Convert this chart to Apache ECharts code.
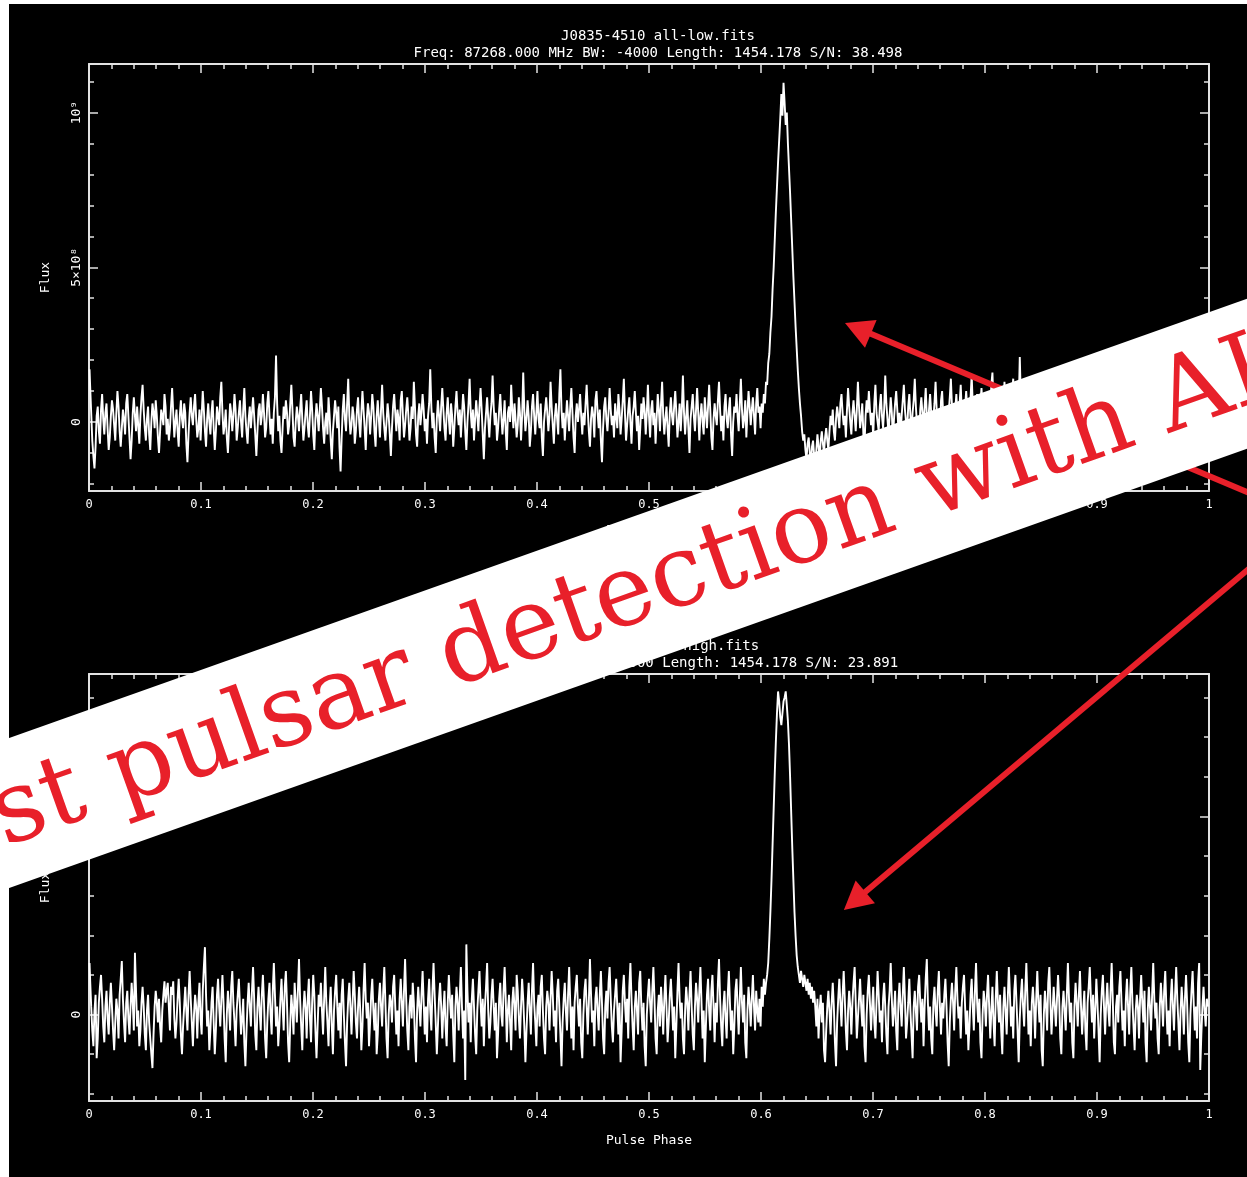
<!DOCTYPE html>
<html>
<head>
<meta charset="utf-8">
<script src="https://cdn.jsdelivr.net/npm/echarts@6/dist/echarts.min.js"></script>
<style>
  html, body { margin: 0; padding: 0; background: #ffffff; }
  #chart { width: 1247px; height: 1177px; }
</style>
</head>
<body>
<div id="chart"></div>
<script>
// Folded pulse profiles of J0835-4510, 1024 phase bins, flux in units of 1e8.
const FLUX_UNIT = 1e8;

const lowFlux = [
  1.7, 1.2, 0.3, -0.6, -1.1, -1.5, -0.8, 0.2, 0.5, -0.3, -0.7, 0.4, 0.9, 0.1, -0.4, 0.3,
  0.6, -0.2, -0.9, -0.5, 0.2, 0.7, 0.4, -0.1, -0.6, 0.3, 1.0, 0.5, -0.3, -0.8, -0.2, 0.4,
  0.1, -0.4, 0.6, 0.9, 0.2, -0.5, -1.2, -0.6, 0.3, 0.8, 0.2, -0.3, 0.5, -0.1, -0.7, 0.2,
  0.8, 1.2, 0.4, -0.2, -0.6, 0.1, 0.5, -0.4, -0.9, 0.0, 0.6, 0.3, -0.2, 0.7, 0.2, -0.5,
  -1.0, -0.3, 0.4, 0.2, -0.1, 0.9, 0.5, -0.4, 0.1, -0.6, -0.2, 0.5, 1.1, 0.3, -0.5, 0.0,
  0.4, -0.3, -0.8, 0.2, 0.7, 0.1, -0.2, 0.6, 0.3, -0.7, -1.3, -0.4, 0.3, 0.8, 0.2, -0.1,
  0.5, 0.9, 0.1, -0.5, -0.2, 0.4, -0.6, 0.2, 1.0, 0.4, -0.3, -0.8, 0.1, 0.6, 0.0, -0.4,
  0.3, 0.7, -0.2, -0.9, -0.3, 0.5, 0.2, -0.1, 0.8, 1.3, 0.3, -0.4, -0.1, 0.4, -0.5, -1.0,
  -0.2, 0.6, 0.3, -0.3, 0.2, 0.9, 0.4, -0.6, -0.2, 0.3, 0.7, 0.0, -0.5, 0.4, 1.1, 0.2,
  -0.3, -0.7, 0.1, 0.5, -0.2, 0.3, 0.8, 0.2, -0.4, -1.1, -0.3, 0.4, 0.6, -0.1, 0.2, 0.9,
  0.3, -0.5, -0.2, 0.6, 1.0, 0.2, -0.4, 0.1, -0.7, 0.3, 0.8, 2.15, 0.6, -0.3, 0.2, -0.6,
  -1.0, -0.2, 0.5, 0.1, 0.7, 0.3, -0.4, -0.1, 0.6, 1.2, 0.4, -0.5, -0.8, 0.0, 0.5, 0.2,
  -0.3, 0.4, 0.9, 0.1, -0.6, -0.2, 0.3, 0.7, -0.1, -0.5, 0.2, 1.0, 0.4, -0.4, -0.9, 0.1,
  0.6, 0.2, -0.3, 0.4, 1.1, 0.5, -0.2, -0.7, 0.0, 0.3, -0.4, 0.8, 0.2, -0.6, -1.2, -0.3,
  0.2, 0.7, 0.3, -0.2, 0.5, -0.8, -1.6, -0.5, 0.4, 0.9, 0.1, -0.3, 0.6, 1.4, 0.2, -0.4,
  -0.1, 0.5, 0.2, -0.7, -0.3, 0.4, 0.8, 0.0, -0.5, 0.3, 1.0, 0.4, -0.2, -0.9, 0.1, 0.6,
  0.3, -0.4, 0.2, 0.9, 0.5, -0.3, -0.8, 0.2, 0.7, 0.1, -0.5, 0.4, 1.2, 0.3, -0.2, -0.6,
  0.0, 0.6, 0.2, -0.4, -1.1, -0.2, 0.5, 0.9, 0.3, -0.3, 0.4, 0.1, -0.6, 0.7, 1.0, 0.2,
  -0.5, -0.1, 0.4, 0.8, 0.2, -0.6, -0.2, 0.5, 0.1, 1.3, 0.5, -0.4, -0.8, 0.2, 0.6, -0.1,
  0.3, 0.9, 0.4, -0.3, 0.1, -0.7, 0.2, 0.6, 1.7, 0.5, -0.2, 0.3, -0.5, -1.0, 0.1, 0.7,
  0.2, -0.3, 0.5, 1.1, 0.4, -0.2, -0.6, 0.3, 0.8, 0.1, -0.4, 0.6, 0.2, -0.8, -0.2, 0.5,
  1.0, 0.3, -0.1, 0.4, -0.5, 0.2, 0.9, 0.5, -0.3, -0.9, 0.0, 0.6, 1.4, 0.3, -0.2, 0.4,
  -0.6, 0.1, 0.7, 0.2, -0.3, 0.5, 1.1, 0.4, -0.4, -1.2, -0.2, 0.3, 0.8, 0.1, -0.5, 0.2,
  0.6, 1.5, 0.5, -0.1, 0.3, -0.6, -0.2, 0.4, 0.9, 0.2, -0.4, 0.1, 0.7, -0.3, -0.9, 0.3,
  0.5, 0.0, 1.2, 0.4, -0.2, 0.6, 0.1, -0.5, -0.1, 0.8, 0.3, -0.6, 0.2, 1.6, 0.4, -0.3,
  0.1, 0.7, 0.2, -0.8, -0.3, 0.5, 0.9, 0.2, -0.4, 0.3, 1.0, 0.1, -0.2, 0.6, -0.5, -1.1,
  0.0, 0.4, 0.8, 0.3, -0.3, 0.2, 1.3, 0.5, -0.1, -0.7, 0.2, 0.6, 0.1, -0.4, 0.9, 1.7,
  0.4, -0.2, 0.3, -0.6, 0.1, 0.7, 0.2, -0.3, 0.5, 1.1, 0.3, -0.5, -1.0, 0.2, 0.6, 0.0,
  0.4, 0.9, 0.2, -0.4, 0.3, -0.1, 0.6, 1.2, 0.4, -0.3, -0.8, 0.1, 0.5, 0.2, -0.5, 0.7,
  1.0, 0.3, -0.2, 0.4, -0.6, -1.3, -0.2, 0.5, 0.8, 0.1, -0.3, 0.3, 1.1, 0.4, -0.1, 0.2,
  -0.5, 0.6, 0.2, -0.2, 0.9, 0.4, -0.4, 0.1, 0.7, 1.4, 0.3, -0.6, -0.1, 0.4, 0.8, 0.0,
  -0.7, 0.2, 0.5, 1.0, 0.3, -0.3, 0.2, -0.9, -0.2, 0.6, 0.1, 0.8, 0.4, -0.4, 0.3, 1.2,
  0.2, -0.5, 0.4, 0.7, -0.1, 0.3, -0.7, 0.1, 0.9, 0.4, -0.3, 0.6, 1.3, 0.2, -0.4, 0.1,
  0.5, -0.2, -0.8, 0.3, 0.8, 0.2, -0.1, 0.5, 1.0, 0.3, -0.5, 0.0, 0.6, -0.3, 0.4, 1.5,
  0.3, -0.4, 0.2, 0.7, -0.2, -1.0, 0.1, 0.5, 0.9, 0.2, -0.3, 0.4, 1.1, 0.3, -0.6, 0.2,
  0.6, 0.0, -0.4, 0.8, 0.3, -0.2, 0.5, 1.2, 0.4, -0.5, -0.9, 0.1, 0.6, 0.2, -0.1, 0.7,
  1.3, 0.4, -0.3, 0.2, -0.6, 0.5, 0.9, 0.1, -0.2, 0.4, 0.8, -0.4, -1.1, 0.0, 0.5, 0.3,
  0.9, 0.2, -0.3, 0.6, 1.4, 0.4, -0.2, 0.1, 0.7, -0.5, 0.3, 1.0, 0.5, -0.1, 0.4, 0.8,
  0.2, -0.4, 0.6, 1.1, 0.3, 0.5, -0.2, 0.6, 0.3, 0.9, 0.6, 1.3, 1.2, 1.9, 2.2, 2.9,
  3.4, 4.3, 5.0, 5.9, 6.8, 7.6, 8.4, 9.1, 9.8, 10.6, 9.9, 10.96, 10.3, 9.6, 10.0, 9.0,
  8.2, 7.4, 6.5, 5.6, 4.7, 3.9, 3.1, 2.4, 1.7, 1.1, 0.6, 0.2, -0.3, -0.6, -0.4, -0.9,
  -1.2, -0.7, -0.5, -1.0, -1.4, -0.8, -0.6, -1.1, -1.5, -0.9, -0.4, -0.8, -1.2, -0.6, -0.3, -0.7,
  -1.0, -0.5, -0.2, -0.6, -0.9, -0.3, 0.2, -0.1, 0.4, -0.3, -0.6, 0.1, 0.5, 0.2, -0.2, 0.6,
  0.9, 0.3, -0.1, 0.2, -0.5, 0.4, 1.1, 0.5, 0.0, -0.4, 0.3, 0.7, 0.2, -0.3, 0.4, 1.3,
  0.5, -0.2, 0.1, 0.6, -0.4, -0.8, 0.2, 0.7, 0.3, 1.0, 0.4, -0.1, 0.3, -0.5, 0.6, 1.2,
  0.3, 0.0, -0.3, 0.5, 0.9, 0.2, -0.2, 0.4, 1.5, 0.6, 0.1, -0.4, 0.2, 0.8, 0.3, -0.6,
  0.1, 0.6, 1.0, 0.4, -0.2, 0.3, -0.5, 0.2, 0.7, 1.2, 0.4, 0.0, -0.3, 0.5, 0.9, 0.2,
  -0.4, 0.3, 0.7, 1.4, 0.5, -0.1, 0.2, -0.6, 0.4, 0.8, 0.3, -0.2, 0.5, 1.1, 0.2, -0.3,
  0.4, 0.9, 0.3, -0.5, 0.1, 0.6, 1.3, 0.4, -0.2, 0.3, -0.4, 0.7, 1.0, 0.2, -0.1, 0.5,
  0.2, -0.6, 0.3, 0.8, 1.4, 0.5, 0.0, -0.3, 0.4, 0.9, 0.2, -0.2, 0.6, 1.2, 0.3, -0.4,
  0.1, 0.5, 1.0, 0.4, -0.1, 0.3, 0.8, 1.5, 0.6, 0.2, -0.3, 0.4, 0.9, 0.3, -0.2, 0.6,
  1.1, 0.4, 0.0, 0.5, 0.2, -0.4, 0.3, 0.8, 0.4, 1.2, 1.6, 0.5, 0.1, 0.6, 0.2, -0.3,
  0.4, 1.0, 0.3, -0.2, 0.5, 1.3, 0.6, 0.1, -0.4, 0.3, 0.7, 0.2, 0.9, 1.4, 0.4, 0.0,
  0.3, 0.8, 0.5, 2.1, 0.7, 0.2, -0.3, 0.4, 0.9, 0.1, -0.5, 0.3, 1.0, 0.4, -0.2, 0.5,
  0.8, 0.2, -0.4, 0.6, 1.2, 0.3, -0.1, 0.4, -0.6, 0.2, 0.7, 1.1, 0.3, -0.3, 0.1, 0.6,
  0.2, -0.5, 0.4, 0.9, 0.3, 1.3, 0.5, -0.2, 0.1, 0.6, -0.4, 0.3, 0.8, 0.2, -0.7, 0.4,
  1.0, 0.4, -0.1, 0.3, 0.7, -0.3, -0.8, 0.2, 0.6, 1.2, 0.3, -0.2, 0.5, 0.1, -0.4, 0.9,
  0.3, -0.6, 0.2, 0.8, 1.4, 0.4, -0.3, 0.1, 0.5, -0.2, 0.7, 0.2, -0.9, -0.3, 0.4, 1.0,
  0.5, 0.0, 0.3, -0.4, 0.6, 1.1, 0.2, -0.5, -0.1, 0.4, 0.9, 0.3, -0.3, 0.6, 1.3, 0.2,
  -0.4, 0.1, 0.5, -0.2, 0.8, 0.4, -0.7, -1.1, 0.0, 0.6, 1.0, 0.2, -0.3, 0.4, 0.7, 0.1,
  -0.5, 0.3, 1.2, 0.5, -0.2, 0.2, -0.6, 0.4, 0.9, 0.1, -0.3, 0.6, 1.1, 0.3, -0.8, 0.0,
  0.5, 0.9, 0.2, -0.4, 0.3, -0.1, 0.7, 1.4, 0.4, -0.3, 0.2, 0.6, -0.5, -1.0, 0.1, 0.5,
  0.8, 0.3, -0.2, 0.4, 1.0, 0.2, -0.6, 0.1, 0.6, 0.3, -0.4, 0.9, 1.3, 0.4, -0.1, 0.2,
  -0.7, 0.3, 0.6, 0.1, -0.3, 0.5, 1.1, 0.4, -0.2, 0.2, -0.5, 0.7, 0.3, -0.9, 0.2, 0.6
];

const highFlux = [
  1.3, 0.9, 0.2, -0.4, -0.8, 0.1, 0.5, -1.1, -0.6, 0.3, 0.7, 1.0, 0.4, -0.3, -0.7, 0.2,
  0.6, -0.1, -0.5, 0.3, 0.8, 0.2, -0.4, -0.9, -0.2, 0.4, 0.1, -0.6, 0.5, 0.9, 1.35, 0.4,
  -0.2, -0.7, 0.3, 0.6, -0.1, -0.5, 0.2, 0.8, 0.3, -0.4, 1.56, 0.6, -0.3, 0.1, -0.8, -0.4,
  0.3, 0.7, 0.2, -0.5, -0.9, 0.1, 0.5, -0.2, -0.6, -1.0, -1.35, -0.5, 0.2, 0.6, 0.3, -0.2,
  0.4, -0.3, -0.7, 0.1, 0.5, 0.84, 0.3, 0.6, 0.8, 0.2, -0.4, 0.7, 0.5, 0.84, -0.1, -0.6,
  -0.2, 0.4, 0.9, 0.3, -0.5, -1.0, -0.3, 0.2, 0.7, 0.1, -0.4, 0.5, 1.1, 0.4, -0.2, -0.8,
  0.0, 0.5, 0.2, -0.6, 0.3, 0.8, -0.1, -0.5, 0.6, 1.2, 1.7, 0.5, -0.3, 0.1, -0.9, -0.4,
  0.3, 0.7, -0.2, -1.0, -0.4, 0.5, 0.9, 0.2, -0.3, 0.4, 1.0, 0.3, -0.6, -1.2, 0.0, 0.6,
  0.2, -0.4, 0.7, 1.1, 0.3, -0.2, -0.8, 0.1, 0.5, 0.9, 0.2, -0.5, -0.1, 0.4, -0.7, -1.3,
  -0.4, 0.3, 0.8, 0.2, -0.3, 0.6, 1.2, 0.4, -0.5, -0.9, 0.2, 0.7, 0.1, -0.4, 0.5, 1.0,
  0.3, -0.6, -1.1, -0.2, 0.4, 0.8, 0.0, -0.5, 0.6, 1.3, 0.5, -0.3, 0.2, -0.8, -0.3, 0.4,
  0.9, 0.2, -0.4, 0.7, 1.1, 0.3, -0.7, -1.2, -0.2, 0.5, 0.1, -0.5, 0.8, 0.3, -0.2, 0.6,
  1.4, 0.4, -0.3, -0.9, 0.1, 0.6, 0.2, -0.6, 0.4, 0.9, -0.1, -0.7, 0.3, 1.0, 0.5, -0.4,
  -1.1, -0.3, 0.5, 0.2, 0.8, 0.1, -0.5, 0.4, 1.2, 0.3, -0.2, -0.8, 0.2, 0.7, -0.3, -1.0,
  0.1, 0.6, 1.0, 0.2, -0.4, 0.3, -0.6, 0.5, 0.9, 0.0, -0.7, -1.3, -0.2, 0.4, 0.8, 0.2,
  -0.5, 0.3, 1.1, 0.5, -0.2, -0.6, 0.2, 0.7, 0.1, -0.9, -0.3, 0.6, 1.3, 0.4, -0.1, 0.3,
  -0.8, -0.2, 0.5, 0.9, 0.1, -0.4, 0.3, -1.0, -0.5, 0.4, 0.8, 0.2, -0.3, 0.6, 1.2, 0.3,
  -0.6, -1.1, 0.0, 0.5, 0.3, -0.2, 0.7, 1.0, 0.2, -0.5, 0.1, -0.8, 0.4, 0.9, 0.3, -0.3,
  0.6, 1.4, 0.4, -0.4, -0.9, 0.2, 0.5, -0.1, 0.8, 0.3, -0.6, -1.2, 0.1, 0.7, 0.2, -0.3,
  0.5, 1.1, 0.3, -0.5, 0.2, -0.7, 0.4, 0.9, 0.1, -0.4, 0.6, 1.3, 0.5, -0.2, -1.0, -0.3,
  0.4, 0.8, 0.2, -0.6, 0.1, 0.6, -0.3, -0.8, 0.3, 1.0, 0.4, -0.1, 0.5, -0.5, -1.2, 0.2,
  0.7, 0.3, -0.4, 0.5, 1.2, 0.2, -0.6, 0.1, -1.65, 1.77, 0.6, -0.2, 0.3, -0.7, 0.4, 0.9,
  0.2, -0.5, -1.0, 0.1, 0.6, 1.1, 0.3, -0.3, 0.4, -0.8, 0.2, 0.7, 1.3, 0.1, -0.6, -0.2,
  0.5, 0.9, 0.2, -0.4, 0.3, -1.1, -0.5, 0.4, 0.8, 0.0, -0.3, 0.6, 1.2, 0.4, -0.7, 0.1,
  0.5, -0.2, -0.9, 0.3, 0.7, 0.2, -0.4, 1.0, 0.6, -0.1, -0.6, 0.2, 0.9, 0.4, -0.3, -1.2,
  -0.4, 0.3, 0.8, 0.1, -0.5, 0.6, 1.3, 0.3, -0.2, -0.8, 0.2, 0.5, -0.3, 0.7, 1.0, 0.1,
  -0.6, -1.0, 0.2, 0.6, 0.3, -0.4, 0.4, 1.1, 0.5, -0.3, 0.1, -0.7, 0.6, 0.9, 0.2, -0.5,
  -1.3, -0.2, 0.4, 0.8, 0.1, -0.4, 0.5, 1.2, 0.3, -0.6, 0.2, -0.9, 0.3, 0.7, 1.0, 0.2,
  -0.3, 0.4, -0.7, -1.1, 0.0, 0.6, 0.9, 0.2, -0.5, 0.3, 1.4, 0.5, -0.2, 0.1, -0.8, 0.4,
  0.7, 0.1, -0.4, 0.5, 1.1, 0.3, -0.6, -1.0, 0.2, 0.6, -0.1, 0.8, 1.2, 0.4, -0.3, -0.7,
  0.1, 0.5, 0.9, 0.2, -0.5, 0.3, -1.2, -0.4, 0.6, 1.0, 0.3, -0.2, 0.4, -0.6, 0.7, 1.3,
  0.4, -0.3, -0.9, 0.2, 0.6, 0.1, -0.5, 0.8, 1.1, 0.2, -0.4, 0.3, -0.8, -1.3, 0.0, 0.5,
  0.9, 0.3, -0.2, 0.6, 1.2, 0.4, -0.6, -1.0, 0.1, 0.5, -0.3, 0.7, 0.2, -0.5, 0.4, 1.0,
  0.2, -0.7, -0.2, 0.5, 0.9, 0.3, -0.4, 0.2, -1.1, -0.3, 0.6, 1.3, 0.4, -0.1, 0.3, -0.6,
  -1.0, 0.1, 0.7, 0.3, -0.4, 0.5, 1.1, 0.2, -0.5, -0.9, 0.2, 0.8, 0.4, -0.2, 0.6, 1.2,
  0.3, -0.6, 0.1, -1.2, -0.3, 0.5, 0.9, 0.1, -0.4, 0.6, 1.0, 0.2, -0.7, 0.3, -0.2, 0.8,
  1.4, 0.4, -0.3, -0.8, 0.2, 0.6, -0.1, -0.6, 0.5, 1.1, 0.3, -0.4, 0.1, -1.0, -0.3, 0.6,
  0.9, 0.2, -0.5, 0.4, 1.2, 0.3, -0.2, 0.5, -0.7, -1.1, 0.1, 0.7, 0.3, -0.3, 0.4, 1.0,
  0.2, -0.4, 0.6, 0.1, -0.2, 0.4, -0.3, 0.7, 0.2, 0.9, 0.5, 0.8, 1.0, 1.3, 1.9, 2.6,
  3.4, 4.3, 5.2, 6.1, 6.9, 7.6, 8.15, 7.9, 7.5, 7.3, 7.6, 7.9, 8.0, 8.15, 7.8, 7.4,
  6.8, 6.0, 5.1, 4.2, 3.4, 2.6, 2.0, 1.5, 1.2, 1.0, 0.8, 1.1, 0.9, 0.7, 1.0, 0.8,
  0.6, 0.9, 0.5, 0.8, 0.4, 0.7, 0.3, 0.6, 0.2, -0.3, 0.4, -0.6, 0.1, 0.5, -0.2, 0.3,
  -0.9, -1.2, -0.4, 0.2, 0.6, 0.1, -0.5, 0.3, 0.8, 0.2, -0.7, -1.3, -0.2, 0.4, 0.9, 0.3,
  -0.3, 0.5, 1.1, 0.4, -0.4, -0.9, 0.1, 0.6, 0.2, -0.5, 0.3, 0.8, 1.2, 0.3, -0.6, -0.1,
  0.4, 0.9, 0.2, -0.3, 0.5, -0.8, -1.2, 0.0, 0.6, 1.0, 0.3, -0.4, 0.2, 0.7, -0.2, -0.6,
  0.3, 1.1, 0.5, -0.2, 0.1, -0.7, 0.4, 0.8, 0.2, -0.5, -1.0, 0.2, 0.6, 1.3, 0.4, -0.3,
  0.1, 0.6, -0.4, -0.9, 0.3, 0.8, 0.2, -0.3, 0.5, 1.2, 0.4, -0.6, -0.2, 0.3, 0.9, 0.1,
  -0.5, -1.1, 0.2, 0.6, 0.1, -0.4, 0.7, 1.0, 0.3, -0.2, 0.4, -0.8, 0.2, 0.9, 1.4, 0.3,
  -0.4, 0.2, -0.6, -1.0, 0.3, 0.7, 0.1, -0.3, 0.6, 1.1, 0.2, -0.5, 0.3, -0.1, 0.5, 0.9,
  0.2, -0.7, -1.3, -0.2, 0.4, 0.8, 0.3, -0.4, 0.6, 1.2, 0.4, -0.1, 0.2, -0.6, 0.3, 0.7,
  1.0, 0.2, -0.5, 0.1, -0.9, -0.3, 0.5, 0.9, 0.2, -0.4, 0.6, 1.3, 0.3, -0.2, 0.4, -0.7,
  -1.1, 0.0, 0.6, 0.3, -0.3, 0.5, 1.0, 0.2, -0.6, 0.1, 0.7, -0.2, -0.8, 0.4, 1.1, 0.3,
  -0.2, 0.5, -0.4, -1.0, 0.2, 0.7, 0.1, -0.5, 0.4, 1.2, 0.5, -0.3, 0.2, -0.6, 0.6, 1.0,
  0.3, -0.4, -1.2, -0.1, 0.5, 0.9, 0.2, -0.3, 0.6, 1.3, 0.4, -0.5, 0.1, -0.8, 0.3, 0.7,
  0.2, -0.6, 0.4, 1.1, 0.3, -0.2, 0.5, -0.9, -1.3, 0.0, 0.6, 0.2, -0.4, 0.8, 1.2, 0.3,
  -0.5, 0.1, 0.7, 0.2, -0.3, 0.4, 1.0, 0.4, -0.6, -1.0, 0.2, 0.6, 0.1, -0.4, 0.5, 1.3,
  0.4, -0.2, 0.3, -0.7, -1.1, 0.2, 0.8, 0.3, -0.3, 0.5, 1.1, 0.2, -0.5, 0.1, 0.6, -0.4,
  -0.9, 0.3, 0.7, 1.2, 0.4, -0.2, 0.5, -0.6, 0.1, 0.9, 0.3, -0.4, -1.2, 0.0, 0.6, 1.0,
  0.2, -0.5, 0.3, 0.8, 0.1, -0.3, 0.6, 1.3, 0.4, -0.7, -1.0, 0.2, 0.5, -0.2, 0.7, 1.1,
  0.3, -0.4, 0.1, -0.8, 0.4, 0.9, 0.2, -0.5, 0.6, 1.2, 0.3, -0.3, -0.9, 0.1, 0.5, 0.2,
  -0.6, 0.4, 1.0, 0.3, -0.2, 0.6, -0.7, -1.2, 0.1, 0.7, 0.2, -0.4, 0.5, 1.3, 0.4, -0.1,
  0.3, -0.6, -1.0, 0.2, 0.8, 0.3, -0.3, 0.6, 1.1, 0.2, -0.5, 0.1, -0.8, 0.4, 0.9, 0.2,
  -0.4, 0.5, 1.2, 0.4, -0.2, -0.9, 0.1, 0.7, 0.2, -0.5, 0.4, 1.0, 0.3, -0.7, -1.2, 0.0,
  0.6, 1.1, 0.3, -0.4, 0.2, -0.6, 0.8, 1.3, -1.4, -0.5, 0.2, 0.7, 0.1, -0.3, 0.4, 0.2
];

// Panel headers
const lowTitle = ['J0835-4510 all-low.fits',
  'Freq: 87268.000 MHz BW: -4000 Length: 1454.178 S/N: 38.498'];
const highTitle = ['J0835-4510 all-high.fits',
  'Freq: 91268.000 MHz BW: 4000 Length: 1454.178 S/N: 23.891'];

// Flux axis ticks and labels
const fluxTickValues = [0, 5e8, 1e9];
const fluxTickLabels = ['0', '5×10⁸', '10⁹'];
const fluxMinorTicks = [-2e8, -1e8, 1e8, 2e8, 3e8, 4e8, 6e8, 7e8, 8e8, 9e8, 1.1e9];
const fluxRanges = [[-2.23e8, 1.157e9], [-2.18e8, 0.859e9]];

const bannerText = 'st pulsar detection with AI';

const FONT = '"DejaVu Sans Mono", monospace';
const AXIS_COLOR = '#e2e2e2';
const RED = '#e8202a';

const grids = [
  { left: 89, top: 64, width: 1120, height: 427 },
  { left: 89, top: 674, width: 1120, height: 427 }
];

function phaseAxis(g, pos) {
  const bottom = pos === 'bottom';
  return {
    type: 'value', gridIndex: g, position: pos, min: 0, max: 1, interval: 0.1,
    name: bottom ? 'Pulse Phase' : '', nameLocation: 'middle', nameGap: 33,
    nameTextStyle: { color: '#ffffff', fontFamily: FONT, fontSize: 13 },
    axisLine: { show: true, onZero: false, lineStyle: { color: AXIS_COLOR, width: 2 } },
    axisTick: { show: true, inside: true, length: 9, lineStyle: { color: AXIS_COLOR, width: 1.5 } },
    minorTick: { show: true, splitNumber: 5, length: 5, lineStyle: { color: AXIS_COLOR, width: 1.5 } },
    axisLabel: { show: bottom, color: '#ffffff', fontFamily: FONT, fontSize: 12, margin: 8 },
    splitLine: { show: false }, minorSplitLine: { show: false }
  };
}

function inRange(vals, r) { return vals.filter(v => v >= r[0] && v <= r[1]); }

function fluxAxis(g, pos, major) {
  const r = fluxRanges[g];
  const left = pos === 'left';
  const ticks = inRange(major ? fluxTickValues : fluxMinorTicks, r);
  return {
    type: 'value', gridIndex: g, position: pos, min: r[0], max: r[1],
    name: (major && left) ? 'Flux' : '', nameLocation: 'middle', nameGap: 37,
    nameTextStyle: { color: '#ffffff', fontFamily: FONT, fontSize: 13 },
    axisLine: { show: major, onZero: false, lineStyle: { color: AXIS_COLOR, width: 2 } },
    axisTick: { show: true, inside: true, length: major ? 9 : 5, customValues: ticks,
      lineStyle: { color: AXIS_COLOR, width: 1.5 } },
    axisLabel: {
      show: major && left, customValues: ticks, rotate: 90, margin: 6,
      color: '#ffffff', fontFamily: FONT, fontSize: 13,
      formatter: v => {
        const i = fluxTickValues.findIndex(t => Math.abs(t - v) < 1);
        return i >= 0 ? fluxTickLabels[i] : '';
      }
    },
    splitLine: { show: false }
  };
}

// Bin centres in pulse phase, flux scaled to physical units
function profile(vals) {
  const n = vals.length;
  return vals.map((v, i) => [(i + 0.5) / n, v * FLUX_UNIT]);
}

function titles(t, top) {
  const ts = { color: '#ffffff', fontFamily: FONT, fontSize: 14, fontWeight: 'normal' };
  return [
    { text: t[0], left: 653, top: top, textAlign: 'center', textStyle: ts },
    { text: t[1], left: 653, top: top + 17, textAlign: 'center', textStyle: ts }
  ];
}

const chart = echarts.init(document.getElementById('chart'), null, { renderer: 'canvas' });

chart.setOption({
  animation: false,
  backgroundColor: '#ffffff',
  title: [...titles(lowTitle, 24), ...titles(highTitle, 634)],
  grid: grids,
  xAxis: [phaseAxis(0, 'bottom'), phaseAxis(0, 'top'), phaseAxis(1, 'bottom'), phaseAxis(1, 'top')],
  yAxis: [
    fluxAxis(0, 'left', true), fluxAxis(0, 'left', false),
    fluxAxis(0, 'right', true), fluxAxis(0, 'right', false),
    fluxAxis(1, 'left', true), fluxAxis(1, 'left', false),
    fluxAxis(1, 'right', true), fluxAxis(1, 'right', false)
  ],
  series: [
    { type: 'line', name: 'all-low', xAxisIndex: 0, yAxisIndex: 0, step: 'middle',
      showSymbol: false, symbol: 'none', z: 3,
      lineStyle: { color: '#ffffff', width: 1.9 }, data: profile(lowFlux) },
    { type: 'line', name: 'all-high', xAxisIndex: 2, yAxisIndex: 4, step: 'middle',
      showSymbol: false, symbol: 'none', z: 3,
      lineStyle: { color: '#ffffff', width: 1.9 }, data: profile(highFlux) }
  ]
});

// Annotation arrows, tips given in the data space of each panel
const arrows = [
  { finder: { xAxisIndex: 0, yAxisIndex: 0 }, tip: [0.675, 3.2e8], angle: 22.8 },
  { finder: { xAxisIndex: 2, yAxisIndex: 4 }, tip: [0.674, 2.64e8], angle: -40.1 }
];

function arrowElements(a) {
  const tip = chart.convertToPixel(a.finder, a.tip);
  const ang = a.angle * Math.PI / 180;
  const ux = Math.cos(ang), uy = Math.sin(ang);
  const headLen = 28, halfW = 15, len = 700;
  const base = [tip[0] + ux * headLen, tip[1] + uy * headLen];
  const nx = -uy, ny = ux;
  return [
    { type: 'line', z: 40, silent: true,
      shape: { x1: base[0] - ux * 4, y1: base[1] - uy * 4, x2: tip[0] + ux * len, y2: tip[1] + uy * len },
      style: { stroke: RED, lineWidth: 6 } },
    { type: 'polygon', z: 40, silent: true,
      shape: { points: [tip, [base[0] + nx * halfW, base[1] + ny * halfW], [base[0] - nx * halfW, base[1] - ny * halfW]] },
      style: { fill: RED } }
  ];
}

// Diagonal banner: centre line and slope
const bannerSlope = 0.355;
const bannerAt = x => 521.7 - bannerSlope * (x - 830);
const bannerHalf = 75;
const bannerAngle = Math.atan(bannerSlope);

chart.setOption({
  graphic: [
    { type: 'rect', z: -10, silent: true, shape: { x: 9, y: 4, width: 1238, height: 1173 },
      style: { fill: '#000000' } },
    ...arrowElements(arrows[0]),
    ...arrowElements(arrows[1]),
    { type: 'polygon', z: 50, silent: true,
      shape: { points: [
        [-60, bannerAt(-60) - bannerHalf], [1310, bannerAt(1310) - bannerHalf],
        [1310, bannerAt(1310) + bannerHalf], [-60, bannerAt(-60) + bannerHalf]] },
      style: { fill: '#ffffff' } },
    { type: 'text', z: 51, silent: true, x: -4, y: 822, rotation: bannerAngle,
      style: { text: bannerText, fill: RED, fontSize: 100, fontFamily: '"DejaVu Serif", serif',
        align: 'left', verticalAlign: 'middle', textAlign: 'left', textVerticalAlign: 'middle' } }
  ]
});
</script>
</body>
</html>
